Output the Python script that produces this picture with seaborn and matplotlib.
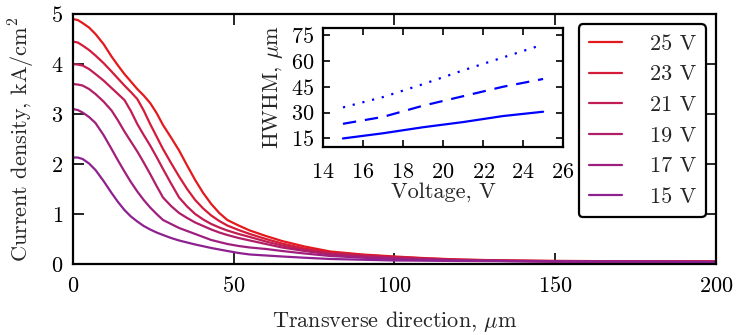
import numpy as np
import pandas as pd
import matplotlib
matplotlib.use("Agg")
import matplotlib.pyplot as plt
import seaborn as sns

# ---------------- data ----------------
x_um = [0, 1.5, 3, 5, 7, 9.5, 12, 14, 16, 18, 20, 22, 24, 26, 28, 30.5, 33, 35.5, 38, 40.5, 43, 45.5, 48, 51.5, 55, 60, 65, 72, 80, 90, 100, 110, 120, 135, 150, 175, 200]
j_25V = [4.90, 4.88, 4.82, 4.73, 4.60, 4.40, 4.15, 3.97, 3.80, 3.65, 3.50, 3.37, 3.22, 3.02, 2.78, 2.53, 2.27, 1.97, 1.68, 1.42, 1.20, 1.02, 0.88, 0.77, 0.67, 0.56, 0.46, 0.35, 0.25, 0.19, 0.15, 0.115, 0.09, 0.07, 0.06, 0.055, 0.05]
j_23V = [4.45, 4.43, 4.37, 4.28, 4.17, 4.02, 3.85, 3.71, 3.57, 3.44, 3.30, 3.07, 2.80, 2.55, 2.30, 2.02, 1.75, 1.50, 1.28, 1.11, 0.97, 0.86, 0.77, 0.68, 0.60, 0.50, 0.41, 0.31, 0.23, 0.18, 0.14, 0.11, 0.085, 0.068, 0.06, 0.054, 0.05]
j_21V = [4.00, 3.99, 3.97, 3.90, 3.80, 3.67, 3.52, 3.40, 3.28, 3.06, 2.80, 2.58, 2.37, 2.14, 1.90, 1.61, 1.33, 1.15, 1.00, 0.89, 0.80, 0.73, 0.67, 0.60, 0.54, 0.45, 0.37, 0.28, 0.21, 0.165, 0.13, 0.10, 0.08, 0.065, 0.055, 0.05, 0.045]
j_19V = [3.60, 3.59, 3.57, 3.50, 3.40, 3.25, 3.07, 2.87, 2.65, 2.45, 2.25, 2.03, 1.80, 1.56, 1.33, 1.16, 1.02, 0.92, 0.83, 0.76, 0.69, 0.63, 0.58, 0.52, 0.47, 0.40, 0.33, 0.26, 0.19, 0.15, 0.12, 0.095, 0.075, 0.06, 0.05, 0.045, 0.04]
j_17V = [3.10, 3.08, 3.03, 2.94, 2.82, 2.58, 2.30, 2.07, 1.85, 1.64, 1.45, 1.28, 1.13, 1.00, 0.88, 0.80, 0.72, 0.66, 0.60, 0.54, 0.48, 0.44, 0.40, 0.36, 0.33, 0.30, 0.26, 0.21, 0.16, 0.125, 0.10, 0.085, 0.07, 0.06, 0.05, 0.045, 0.04]
j_15V = [2.13, 2.13, 2.10, 2.01, 1.88, 1.66, 1.42, 1.24, 1.08, 0.95, 0.85, 0.76, 0.69, 0.63, 0.58, 0.52, 0.47, 0.43, 0.39, 0.355, 0.32, 0.29, 0.26, 0.22, 0.19, 0.17, 0.15, 0.125, 0.10, 0.085, 0.07, 0.065, 0.06, 0.055, 0.05, 0.045, 0.04]
series_labels = ["25 V", "23 V", "21 V", "19 V", "17 V", "15 V"]

voltage = [15, 17, 19, 21, 23, 25]
hwhm_solid = [15.0, 18.0, 21.5, 24.5, 28.0, 30.5]
hwhm_dashed = [23.5, 27.5, 34.0, 39.5, 45.0, 49.5]
hwhm_dotted = [33.0, 39.0, 46.5, 54.5, 62.0, 69.5]

colors = ["#e3191c", "#d41b3a", "#c21d52", "#b01e68", "#9f1f7e", "#8e2090"]

# ---------------- style ----------------
sns.set_style("ticks")
plt.rcParams["font.family"] = ["cmr10", "DejaVu Serif"]
plt.rcParams["mathtext.fontset"] = "cm"
plt.rcParams["axes.formatter.use_mathtext"] = True
plt.rcParams["font.size"] = 16
plt.rcParams["axes.linewidth"] = 1.6
plt.rcParams["axes.edgecolor"] = "black"
plt.rcParams["xtick.color"] = "black"
plt.rcParams["ytick.color"] = "black"

FS = 16

all_series = [j_25V, j_23V, j_21V, j_19V, j_17V, j_15V]
frames = []
for lab, vals in zip(series_labels, all_series):
    frames.append(pd.DataFrame({"x": x_um, "j": vals, "V": lab}))
df = pd.concat(frames, ignore_index=True)

fig = plt.figure(figsize=(7.39, 3.35), dpi=100)
ax = fig.add_axes([0.0988, 0.212, 0.870, 0.746])

sns.lineplot(data=df, x="x", y="j", hue="V", hue_order=series_labels,
             palette=dict(zip(series_labels, colors)), linewidth=1.6, ax=ax)
ax.set_xlim(0, 200)
ax.set_ylim(0, 5)
ax.set_xticks([0, 50, 100, 150, 200])
ax.set_yticks([0, 1, 2, 3, 4, 5])
ax.tick_params(direction="in", length=8, width=1.2, top=True, right=True,
               labelsize=FS, pad=7)
ax.tick_params(axis="x", pad=9)
ax.set_xlabel(r"Transverse direction, $\mu$m", fontsize=FS, labelpad=9)
ax.set_ylabel(r"Current density, kA/cm$^2$", fontsize=FS, labelpad=10)

leg = ax.legend(loc="upper right", fontsize=FS, frameon=True, fancybox=True,
                handlelength=1.5, handletextpad=1.25, labelspacing=0.5,
                borderpad=0.45, borderaxespad=0.45)
leg.get_frame().set_edgecolor("black")
leg.get_frame().set_linewidth(1.6)
leg.get_frame().set_alpha(1)
for h in leg.get_lines():
    h.set_linewidth(1.6)

# ---------------- inset ----------------
axi = fig.add_axes([0.437, 0.561, 0.325, 0.355])
sns.lineplot(x=voltage, y=hwhm_solid, color="blue", linewidth=1.6, ax=axi)
sns.lineplot(x=voltage, y=hwhm_dashed, color="blue", linewidth=1.6, ax=axi)
axi.lines[-1].set_dashes([6, 4])
sns.lineplot(x=voltage, y=hwhm_dotted, color="blue", linewidth=1.6, ax=axi)
axi.lines[-1].set_dashes([1, 3.5])
axi.set_xlim(14, 26)
axi.set_ylim(10, 79)
axi.set_xticks([14, 16, 18, 20, 22, 24, 26])
axi.set_yticks([15, 30, 45, 60, 75])
axi.tick_params(direction="in", length=5, width=1.2, top=True, right=True,
                labelsize=FS, pad=6)
axi.tick_params(axis="x", pad=11)
axi.set_xlabel("Voltage, V", fontsize=FS, labelpad=0)
axi.set_ylabel(r"HWHM, $\mu$m", fontsize=FS, labelpad=4.5)

fig.savefig("out.png", dpi=100)
